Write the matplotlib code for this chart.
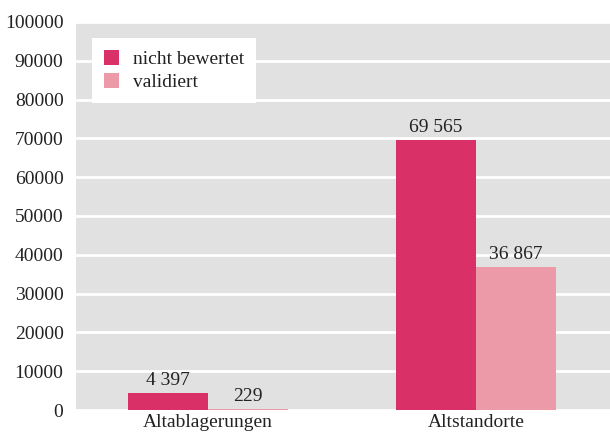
import matplotlib
matplotlib.use("Agg")
import matplotlib.pyplot as plt
import numpy as np

categories = ["Altablagerungen", "Altstandorte"]
series_names = ["nicht bewertet", "validiert"]
nicht_bewertet = [4397, 69565]
validiert = [229, 36867]
value_labels_nb = ["4 397", "69 565"]
value_labels_val = ["229", "36 867"]
yticks = list(range(0, 100001, 10000))

plt.rcParams['font.family'] = ['Liberation Serif', 'DejaVu Serif']

fig = plt.figure(figsize=(6.1, 4.36), dpi=100)
ax = fig.add_axes([76/610, 26/436, 534/610, 388/436])
ax.set_facecolor('#e1e1e1')

x = np.arange(len(categories))
w = 0.3
c1, c2 = '#d93068', '#ec99a8'
fs = 14
b1 = ax.bar(x - w/2, nicht_bewertet, w, color=c1, label=series_names[0], zorder=3)
b2 = ax.bar(x + w/2, validiert, w, color=c2, label=series_names[1], zorder=3)
for rect, lab in zip(b1, value_labels_nb):
    ax.text(rect.get_x() + rect.get_width()/2, rect.get_height() + 1000, lab,
            ha='center', va='bottom', fontsize=fs, color='#222222', zorder=4)
for rect, lab in zip(b2, value_labels_val):
    ax.text(rect.get_x() + rect.get_width()/2, rect.get_height() + 1000, lab,
            ha='center', va='bottom', fontsize=fs, color='#222222', zorder=4)

ax.set_ylim(0, 100000)
ax.set_xlim(-0.4925, 1.5)
ax.set_yticks(yticks)
ax.set_yticklabels([str(t) for t in yticks], fontsize=fs, color='#222222')
ax.set_xticks(x)
ax.set_xticklabels(categories, fontsize=fs, color='#222222')
ax.tick_params(axis='y', length=0, pad=9)
ax.tick_params(axis='x', length=0, pad=3)
ax.yaxis.grid(True, color='white', linewidth=2, zorder=1)
ax.set_axisbelow(True)
for s in ax.spines.values():
    s.set_visible(False)

leg = ax.legend(loc='upper left', bbox_to_anchor=(16/534, 1 - 16/388), frameon=True,
                fancybox=False, framealpha=1, edgecolor='white', facecolor='white',
                fontsize=fs, handlelength=0.8, handleheight=0.8, borderpad=0.6,
                labelspacing=0.25, handletextpad=0.7, borderaxespad=0)
leg.get_frame().set_linewidth(0)
for t in leg.get_texts():
    t.set_color('#222222')

fig.savefig('out.png', dpi=100)
